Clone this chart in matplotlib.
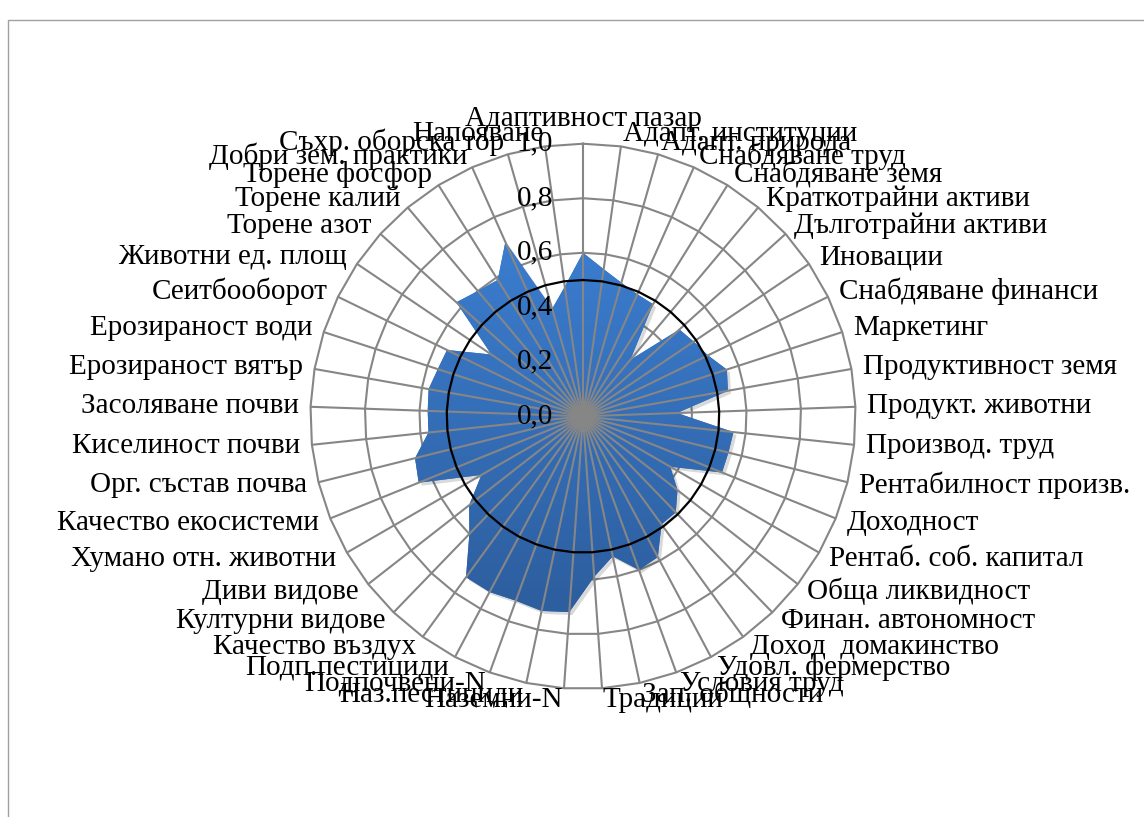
import numpy as np
import matplotlib
matplotlib.use("Agg")
import matplotlib.pyplot as plt
from matplotlib.colors import LinearSegmentedColormap
from matplotlib.image import BboxImage
from matplotlib.patches import Rectangle
from matplotlib.transforms import Bbox, TransformedBbox, offset_copy

# categories clockwise from the top
labels = [
    "Адаптивност пазар", "Адапт. институции", "Адапт. природа", "Снабдяване труд",
    "Снабдяване земя", "Краткотрайни активи", "Дълготрайни активи", "Иновации",
    "Снабдяване финанси", "Маркетинг", "Продуктивност земя", "Продукт. животни",
    "Производ. труд", "Рентабилност произв.", "Доходност", "Рентаб. соб. капитал",
    "Обща ликвидност", "Финан. автономност", "Доход  домакинство", "Удовл. фермерство",
    "Условия труд", "Зап. общности", "Традиции", "Наземни-N",
    "Наз.пестициди", "Подпочвени-N", "Подп.пестициди", "Качество въздух",
    "Културни видове", "Диви видове", "Хумано отн. животни", "Качество екосистеми",
    "Орг. състав почва", "Киселиност почви", "Засоляване почви", "Ерозираност вятър",
    "Ерозираност води", "Сеитбооборот", "Животни ед. площ", "Торене азот",
    "Торене калий", "Торене фосфор", "Добри зем. практики", "Съхр. оборска тор",
    "Напояване",
]
values = [
    0.60, 0.545, 0.51, 0.49,
    0.485, 0.27, 0.476, 0.49,
    0.51, 0.555, 0.54, 0.345,
    0.555, 0.55, 0.55, 0.37,
    0.44, 0.49, 0.49, 0.585,
    0.60, 0.525, 0.59, 0.72,
    0.73, 0.72, 0.73, 0.73,
    0.60, 0.53, 0.43, 0.65,
    0.635, 0.57, 0.57, 0.575,
    0.56, 0.555, 0.405, 0.625,
    0.60, 0.59, 0.70, 0.41,
    0.48,
]
threshold = 0.5
rticks = [0.0, 0.2, 0.4, 0.6, 0.8, 1.0]
rtick_labels = ["0,0", "0,2", "0,4", "0,6", "0,8", "1,0"]

plt.rcParams["font.family"] = ["Liberation Serif", "DejaVu Serif"]
FS = 21
GRAY = "#868686"

n = len(labels)
angles = np.arange(n) * 2 * np.pi / n
closed_a = np.append(angles, angles[0])
closed_v = np.append(values, values[0])

fig = plt.figure(figsize=(11.44, 8.17), dpi=100)
# chart area border (cut by the image on the right and bottom)
fig.patches.append(Rectangle((8 / 1144, -0.01), 1.0, 1 - 20 / 817 + 0.01,
                             transform=fig.transFigure, fill=False,
                             edgecolor="#a0a0a0", lw=1))

ax = fig.add_axes([0.2713, 0.1568, 0.4766, 0.6673], projection="polar")
ax.set_theta_zero_location("N")
ax.set_theta_direction(-1)
ax.set_ylim(0, 1)
ax.grid(False)
ax.set_xticks([])
ax.set_yticks([])
ax.spines["polar"].set_visible(False)
ax.patch.set_visible(False)

# rings (under the fill)
for v in rticks[1:]:
    ax.plot(closed_a, np.full(n + 1, v), color=GRAY, lw=1.5, zorder=1, clip_on=False)

# soft shadow + gradient filled area
shadow_tr = offset_copy(ax.transData, fig=fig, x=3, y=-3, units="dots")
ax.fill(closed_a, closed_v, color="black", alpha=0.15, lw=0, zorder=2, transform=shadow_tr)
poly = ax.fill(closed_a, closed_v, color="#3470BD", lw=0, zorder=3)[0]

ys = 0.5 + 0.5 * closed_v * np.cos(closed_a)
grad_box = TransformedBbox(Bbox([[0, ys.min()], [1, ys.max()]]), ax.transAxes)
cmap = LinearSegmentedColormap.from_list("fill", ["#3B7DCF", "#2D5E9E"])
grad = BboxImage(grad_box, cmap=cmap, interpolation="bilinear", zorder=3.5)
grad.set_data(np.linspace(0, 1, 256).reshape(-1, 1))
grad.set_clip_path(poly)
ax.add_artist(grad)

# spokes on top of the fill
ax.vlines(angles, 0, 1, colors=GRAY, lw=1.5, zorder=4, clip_on=False)

# 0.5 reference line
ax.plot(closed_a, np.full(n + 1, threshold), color="black", lw=1.6, zorder=5, clip_on=False)

# value axis labels
tick_tr = offset_copy(ax.transData, fig=fig, x=-30, y=0, units="dots")
for v, t in zip(rticks, rtick_labels):
    ax.text(0, v, t, ha="right", va="center", fontsize=FS, zorder=6, transform=tick_tr)

# category labels
for a, lab in zip(angles, labels):
    s, c = np.sin(a), np.cos(a)
    ha = "center" if abs(s) < 0.01 else ("left" if s > 0 else "right")
    va = "bottom" if c > 0.999 else "center"
    tr = offset_copy(ax.transData, fig=fig, x=12 * s, y=12 * c, units="dots")
    ax.text(a, 1.0, lab, ha=ha, va=va, fontsize=FS, zorder=6, clip_on=False, transform=tr)

fig.savefig("out.png", dpi=100)
